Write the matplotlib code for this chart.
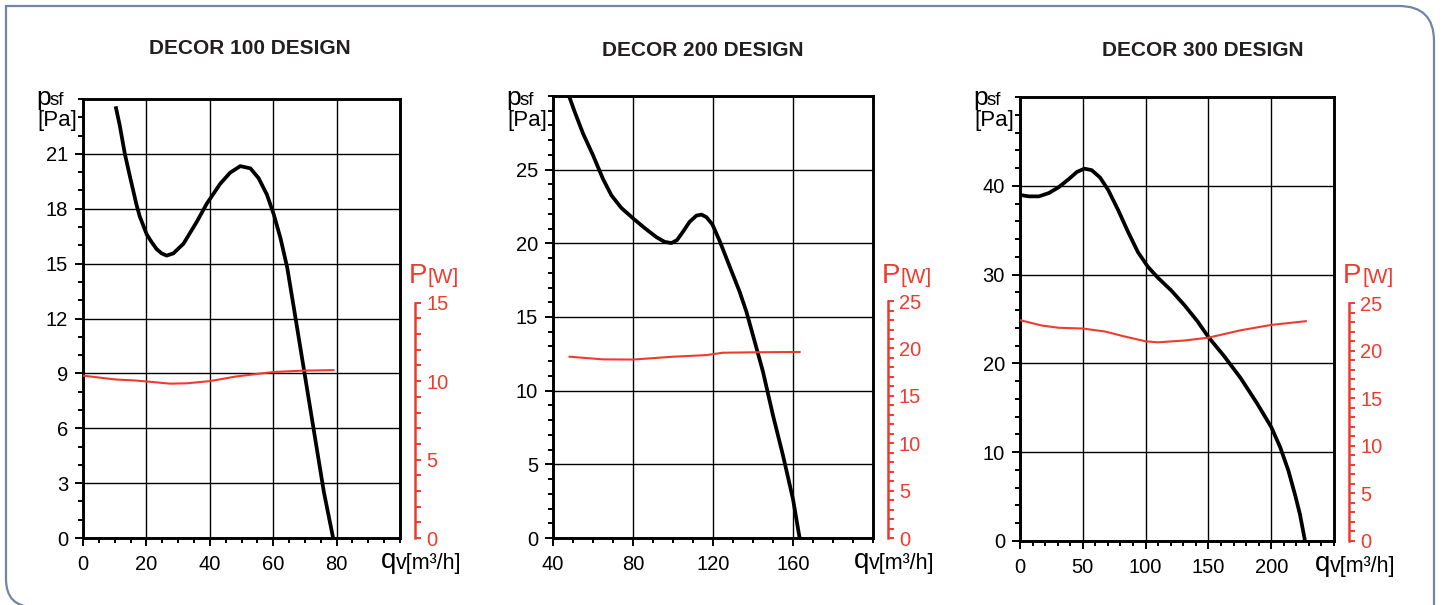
import matplotlib.pyplot as plt
from matplotlib.path import Path
from matplotlib.patches import PathPatch
from matplotlib.ticker import FixedLocator, MultipleLocator

plt.rcParams['font.family'] = ['Liberation Sans', 'DejaVu Sans']

# chart data
titles = ['DECOR 100 DESIGN', 'DECOR 200 DESIGN', 'DECOR 300 DESIGN']

# DECOR 100: pressure curve [Pa] and power [W] against air flow [m3/h]
q_100 = [10.3, 11.6, 13.2, 14.8, 16.9, 17.9, 20.1, 21.6, 23.2, 24.8, 26.4, 28.5,
         31.7, 35.9, 39.05, 43.3, 46.4, 49.6, 52.8, 55.4, 58.0, 60.2, 62.3, 64.4,
         66.5, 69.7, 72.8, 76.0, 78.9]
p_100 = [23.6, 22.55, 21.0, 19.77, 18.2, 17.58, 16.6, 16.19, 15.8, 15.56, 15.44,
         15.56, 16.09, 17.29, 18.28, 19.37, 19.97, 20.33, 20.21, 19.67, 18.78,
         17.68, 16.39, 14.8, 12.6, 9.2, 5.9, 2.5, 0.0]
qw_100 = [0, 10.5, 15.8, 20, 27.4, 32.6, 40, 48.4, 60, 69.5, 79]
w_100 = [10.35, 10.1, 10.05, 9.98, 9.84, 9.86, 10.0, 10.3, 10.58, 10.67, 10.7]

# DECOR 200
q_200 = [48, 50.8, 55, 60, 65, 69.2, 74.2, 80, 85.8, 91.7, 95.8, 99.2, 102, 105,
         108.3, 111.7, 114.2, 116.7, 119.7, 123.3, 128.3, 133.3, 136.7, 140, 145,
         150, 155, 160, 163.3]
p_200 = [30.0, 28.94, 27.46, 25.98, 24.37, 23.26, 22.4, 21.7, 21.04, 20.42, 20.1,
         20.02, 20.22, 20.79, 21.46, 21.88, 21.95, 21.78, 21.28, 20.17, 18.44,
         16.72, 15.36, 13.75, 11.28, 8.32, 5.6, 2.64, 0.0]
qw_200 = [48.3, 65, 80, 100, 116.7, 125, 141.7, 163.3]
w_200 = [19.13, 18.85, 18.83, 19.13, 19.3, 19.55, 19.6, 19.63]

# DECOR 300
q_300 = [0, 7.1, 15, 22.9, 30.8, 38.7, 45.3, 51.3, 57.1, 63.7, 70.3, 78.2, 86.1,
         93.9, 101.8, 109.7, 120.3, 130.8, 141.3, 150, 162.4, 175.5, 188.7, 200,
         207.1, 213.7, 218.9, 222.9, 226.8]
p_300 = [38.97, 38.81, 38.81, 39.18, 39.84, 40.74, 41.56, 41.93, 41.76, 40.94,
         39.51, 37.25, 34.79, 32.53, 30.89, 29.66, 28.23, 26.58, 24.74, 22.97,
         20.84, 18.38, 15.51, 12.84, 10.58, 7.92, 5.25, 3.0, 0.1]
qw_300 = [0, 17.6, 30.8, 50, 67.6, 83.4, 100, 109.7, 130.8, 150, 175.5, 200, 227.6]
w_300 = [23.2, 22.63, 22.4, 22.32, 22.01, 21.48, 20.98, 20.87, 21.06, 21.36, 22.13,
         22.7, 23.09]

# axis ranges and ticks
x_ranges = [(0, 100), (40, 200), (0, 250)]
x_major = [[0, 20, 40, 60, 80], [40, 80, 120, 160], [0, 50, 100, 150, 200]]
x_minor = [5, 10, 10]
y_ranges = [(0, 24), (0, 30), (0, 50)]
y_major = [[0, 3, 6, 9, 12, 15, 18, 21], [0, 5, 10, 15, 20, 25], [0, 10, 20, 30, 40]]
y_minor = [1, 1, 2]
w_max = [15, 25, 25]

pressures = [(q_100, p_100), (q_200, p_200), (q_300, p_300)]
powers = [(qw_100, w_100), (qw_200, w_200), (qw_300, w_300)]

# layout in pixels (left, top, right, bottom)
W, H = 1442, 605
boxes = [(83, 99, 400, 538), (553, 96, 873, 538), (1020, 97, 1334, 541)]
title_x = [250, 703, 1203]
title_y = [48, 51, 51]
RED = '#ee3b30'
PX = 72 / 100  # points per pixel


def fx(x):
    return x / W


def fy(y):
    return 1 - y / H


fig = plt.figure(figsize=(W / 100, H / 100), dpi=100)

for i in range(3):
    l, t, r, b = boxes[i]
    ax = fig.add_axes([fx(l), fy(b), (r - l) / W, (b - t) / H])
    q, p = pressures[i]
    ax.plot(q, p, color='black', lw=2.7, solid_capstyle='butt',
            solid_joinstyle='round', zorder=5)
    ax.set_xlim(*x_ranges[i])
    ax.set_ylim(*y_ranges[i])
    ax.xaxis.set_major_locator(FixedLocator(x_major[i]))
    ax.xaxis.set_minor_locator(MultipleLocator(x_minor[i]))
    ax.yaxis.set_major_locator(FixedLocator(y_major[i]))
    ax.yaxis.set_minor_locator(MultipleLocator(y_minor[i]))
    ax.grid(True, which='major', color='black', lw=1.0)
    for s in ax.spines.values():
        s.set_linewidth(2.1)
    ax.tick_params(which='major', direction='out', length=8 * PX, width=1.4,
                   labelsize=14.5)
    ax.tick_params(which='minor', direction='out', length=5 * PX, width=1.4)
    ax.tick_params(axis='x', pad=9 * PX)
    ax.tick_params(axis='y', pad=7 * PX)

    # power axis on the right
    ax2 = ax.twinx()
    qw, w = powers[i]
    ax2.plot(qw, w, color=RED, lw=1.5, solid_joinstyle='round')
    ax2.set_ylim(0, w_max[i] / 0.536)
    for name in ['top', 'left', 'bottom']:
        ax2.spines[name].set_visible(False)
    sp = ax2.spines['right']
    sp.set_position(('outward', 15 * PX))
    sp.set_bounds(0, w_max[i])
    sp.set_color(RED)
    sp.set_linewidth(1.8)
    ax2.yaxis.set_major_locator(FixedLocator(list(range(0, w_max[i] + 1, 5))))
    ax2.yaxis.set_minor_locator(FixedLocator(list(range(0, w_max[i] + 1))))
    ax2.tick_params(which='both', direction='out', color=RED, labelcolor=RED,
                    width=1.4, labelsize=14.5)
    ax2.tick_params(which='major', length=6 * PX, pad=5 * PX)
    ax2.tick_params(which='minor', length=6 * PX)

    # titles and axis labels
    fig.text(fx(title_x[i]), fy(title_y[i]), titles[i], ha='center', va='center',
             fontsize=15, fontweight='bold', color='#231f20')
    fig.text(fx(l - 47), fy(105), 'p', fontsize=19, va='baseline', ha='left')
    fig.text(fx(l - 33), fy(105), 'sf', fontsize=13.5, va='baseline', ha='left')
    fig.text(fx(l - 46), fy(126), '[Pa]', fontsize=16, va='baseline', ha='left')
    sx = r + 15
    fig.text(fx(sx - 6), fy(283), 'P', fontsize=20, va='baseline', ha='left',
             color=RED)
    fig.text(fx(sx + 13), fy(283), '[W]', fontsize=15, va='baseline', ha='left',
             color=RED)
    fig.text(fx(r - 19), fy(b + 30), 'q', fontsize=20, va='baseline', ha='left')
    fig.text(fx(r - 4), fy(b + 31), 'v[m³/h]', fontsize=15.5, va='baseline',
             ha='left')

# outer frame with rounded corners
pts = [(1434, 615), (1434, 41), (1434, 6), (1399, 6), (6, 6), (6, 579),
       (6, 607), (34, 607), (1440, 607)]
codes = [Path.MOVETO, Path.LINETO, Path.CURVE3, Path.CURVE3, Path.LINETO,
         Path.LINETO, Path.CURVE3, Path.CURVE3, Path.LINETO]
frame = Path([(fx(x), fy(y)) for x, y in pts], codes)
fig.patches.append(PathPatch(frame, transform=fig.transFigure, fill=False,
                             edgecolor='#7483a8', lw=1.6))

fig.savefig('out.png', dpi=100)
